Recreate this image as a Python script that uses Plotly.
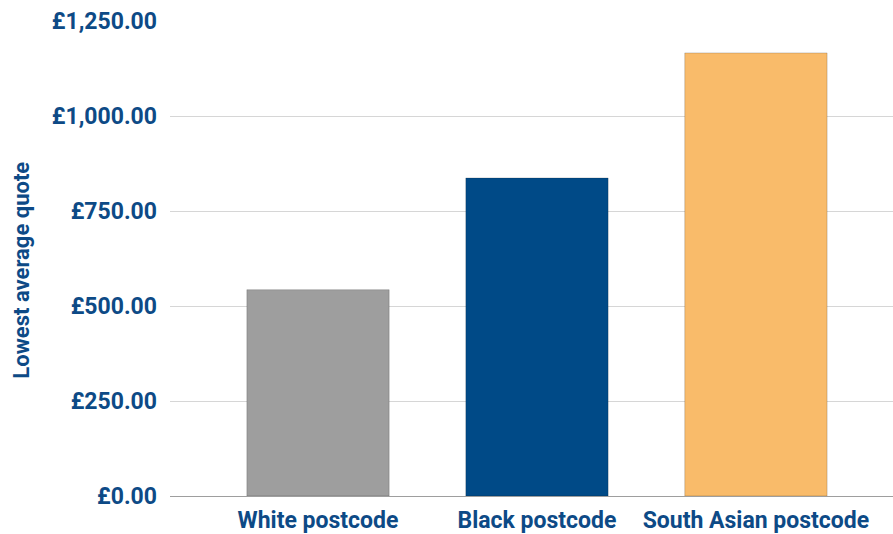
import plotly.graph_objects as go

categories = ["White postcode", "Black postcode", "South Asian postcode"]
values = [543, 837, 1166]
colors = ["#9e9e9e", "#004a87", "#f9bb6a"]
tick_vals = [0, 250, 500, 750, 1000, 1250]
tick_text = ["£0.00", "£250.00", "£500.00", "£750.00", "£1,000.00", "£1,250.00"]
y_title = "Lowest average quote"

text_color = "#0d4a86"

fig = go.Figure(go.Bar(
    x=categories, y=values,
    marker=dict(color=colors, line=dict(color="rgba(0,0,0,0.18)", width=1)),
))

fig.update_layout(
    width=893, height=534,
    margin=dict(l=170, r=0, t=21, b=38),
    paper_bgcolor="white", plot_bgcolor="white",
    bargap=0.35,
    showlegend=False,
    font=dict(family="Roboto", color=text_color, size=23, weight="bold"),
    annotations=[dict(
        text=y_title, textangle=-90, showarrow=False,
        xref="paper", yref="paper", x=-0.205, y=0.476,
        xanchor="center", yanchor="middle",
        font=dict(family="Roboto", size=22, color=text_color, weight="bold"),
    )],
)
fig.update_xaxes(
    range=[-0.676, 2.626],
    showgrid=False, showline=False, zeroline=False,
    tickfont=dict(family="Roboto", size=23, color=text_color, weight="bold"),
    ticklabelstandoff=8,
)
fig.update_yaxes(
    range=[0, 1250],
    tickvals=tick_vals, ticktext=tick_text,
    showgrid=True, gridcolor="#d6d6d6", gridwidth=1,
    zeroline=True, zerolinecolor="#9e9e9e", zerolinewidth=1,
    showline=False,
    tickfont=dict(family="Roboto", size=23, color=text_color, weight="bold"),
    ticklabelstandoff=12,
)

fig.write_html("out.html")
